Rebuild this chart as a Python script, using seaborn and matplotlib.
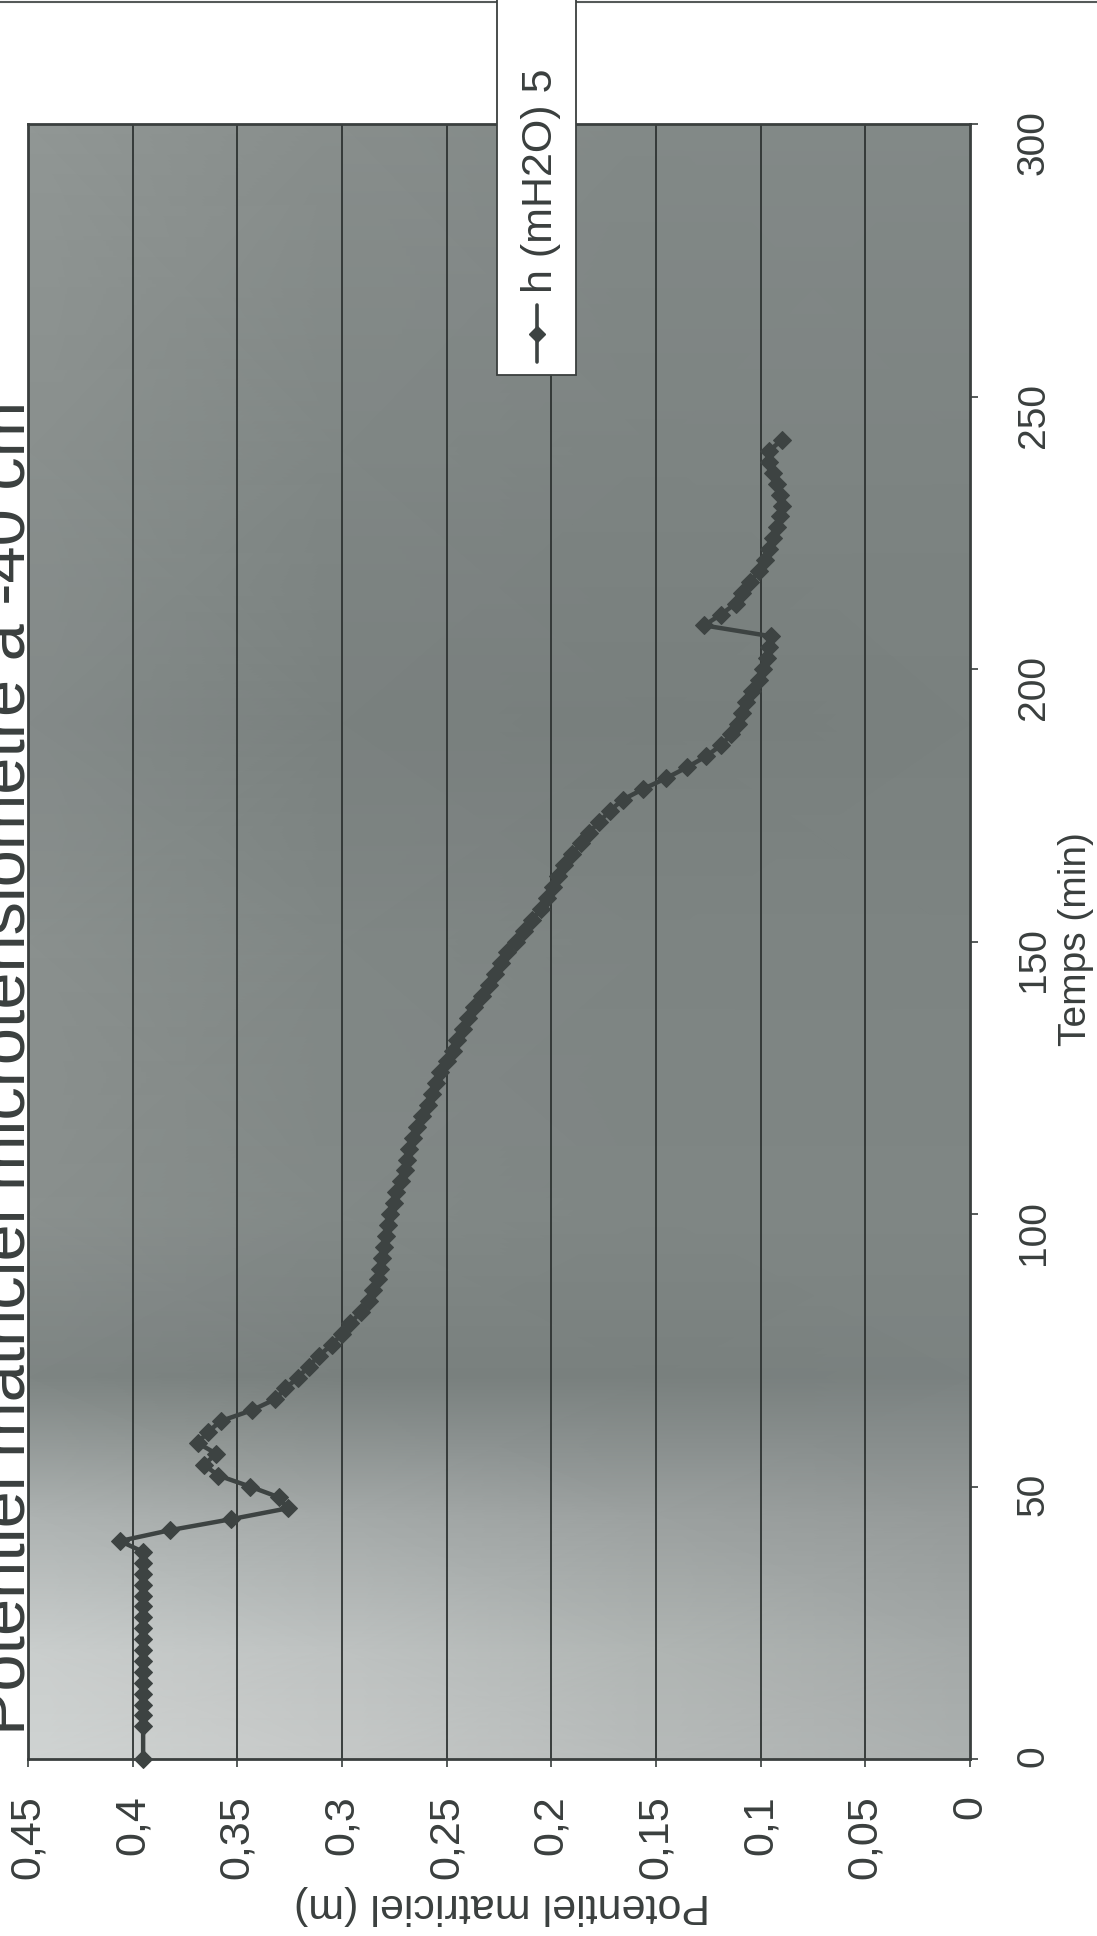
import matplotlib

matplotlib.use("Agg")
import matplotlib.pyplot as plt
import numpy as np
import pandas as pd
import seaborn as sns
from matplotlib.colors import LinearSegmentedColormap
from matplotlib.lines import Line2D
from matplotlib.patches import Rectangle

# ── data ──
temps_min = [0, 6, 8, 10, 12, 14, 16, 18, 20, 22, 24, 26, 28, 30, 32, 34, 36, 38,
             40, 42, 44, 46, 48, 50, 52, 54, 56, 58, 60, 62, 64, 66, 68, 70,
             72, 74, 76, 78, 80, 82, 84, 86, 88, 90, 92, 94, 96, 98, 100,
             102, 104, 106, 108, 110, 112, 114, 116, 118, 120, 122, 124, 126, 128, 130,
             132, 134, 136, 138, 140, 142, 144, 146, 148, 150, 152, 154, 156, 158, 160,
             162, 164, 166, 168, 170, 172, 174, 176, 178, 180, 182, 184, 186, 188, 190,
             192, 194, 196, 198, 200, 202, 204, 206, 208, 210, 212, 214, 216, 218, 220,
             222, 224, 226, 228, 230, 232, 234, 236, 238, 240, 242]
h_mh2o = [0.395, 0.395, 0.395, 0.395, 0.395, 0.395, 0.395, 0.395, 0.395, 0.395,
          0.395, 0.395, 0.395, 0.395, 0.395, 0.395, 0.395, 0.395,
          0.406, 0.382, 0.353, 0.326, 0.330, 0.344, 0.359, 0.366, 0.360, 0.369,
          0.364, 0.358, 0.343, 0.332, 0.327, 0.321,
          0.316, 0.311, 0.305, 0.300, 0.296, 0.291, 0.287, 0.285, 0.283, 0.282,
          0.281, 0.280, 0.279, 0.278, 0.277,
          0.275, 0.274, 0.272, 0.270, 0.269, 0.268, 0.266, 0.264, 0.262, 0.259,
          0.257, 0.255, 0.253, 0.250, 0.247,
          0.245, 0.242, 0.240, 0.237, 0.233, 0.230, 0.227, 0.224, 0.221, 0.217,
          0.213, 0.209, 0.205, 0.202, 0.199,
          0.197, 0.194, 0.190, 0.186, 0.182, 0.177, 0.172, 0.166, 0.156, 0.145,
          0.135, 0.126, 0.119, 0.114, 0.111,
          0.109, 0.107, 0.104, 0.101, 0.099, 0.097, 0.096, 0.095, 0.127, 0.119,
          0.112, 0.109, 0.105, 0.101, 0.098,
          0.096, 0.094, 0.092, 0.091, 0.090, 0.091, 0.092, 0.094, 0.096, 0.096, 0.090]

pot_ticks = [0, 0.05, 0.1, 0.15, 0.2, 0.25, 0.3, 0.35, 0.4, 0.45]
pot_labels = ["0", "0,05", "0,1", "0,15", "0,2", "0,25", "0,3", "0,35", "0,4", "0,45"]
time_ticks = [0, 50, 100, 150, 200, 250, 300]
time_labels = ["0", "50", "100", "150", "200", "250", "300"]

title = "Potentiel matriciel microtensiomètre à -40 cm"
series_name = "h (mH2O) 5"

# scanned grey background of the plot area (lightness, 0 = dark, 1 = light)
bg_pot = [0.45, 0.3, 0.15, 0.0]
bg_time = [0, 20, 45, 70, 100, 150, 190, 240, 300]
bg_light = [[0.95, 0.86, 0.74, 0.64],
            [0.90, 0.80, 0.68, 0.58],
            [0.66, 0.58, 0.50, 0.45],
            [0.26, 0.22, 0.22, 0.24],
            [0.36, 0.30, 0.27, 0.27],
            [0.36, 0.28, 0.25, 0.25],
            [0.31, 0.23, 0.21, 0.23],
            [0.36, 0.28, 0.25, 0.25],
            [0.42, 0.34, 0.30, 0.30]]

df = pd.DataFrame({"temps": temps_min, "h": h_mh2o})

sns.set_theme(style="white")
plt.rcParams["font.family"] = ["Liberation Sans", "DejaVu Sans"]

W, H = 1097, 1936
fig = plt.figure(figsize=(W / 100, H / 100), dpi=100)
fig.patch.set_facecolor("white")

# plot area in pixels: left 28, right 970, top 124, bottom 1759
ax = fig.add_axes([28 / W, 1 - 1759 / H, (970 - 28) / W, (1759 - 124) / H])

scan_cmap = LinearSegmentedColormap.from_list("scan", ["#5f6765", "#d6d9d8"])
ax.pcolormesh(bg_pot, bg_time, np.array(bg_light), shading="gouraud",
              cmap=scan_cmap, vmin=0, vmax=1, zorder=0)

for t in pot_ticks[1:-1]:
    ax.axvline(t, color="#2e3332", lw=1.3, zorder=1)

sns.lineplot(data=df, x="h", y="temps", ax=ax, orient="y", sort=False, estimator=None,
             color="#3d4342", linewidth=3.2, marker="D", markersize=9,
             markeredgecolor="#3d4342", clip_on=False, zorder=3)

ax.set_xlim(0.45, 0)
ax.set_ylim(0, 300)
ax.set_xticks(pot_ticks)
ax.set_xticklabels(pot_labels)
ax.set_yticks(time_ticks)
ax.set_yticklabels(time_labels)
ax.yaxis.tick_right()
ax.set_xlabel("")
ax.set_ylabel("")

ax.tick_params(axis="x", labelrotation=90, labelsize=31, length=6, width=1.2,
               direction="out", pad=20, colors="#3a3f3e", bottom=True)
ax.tick_params(axis="y", labelrotation=90, labelsize=28, length=6, width=1.2,
               direction="out", pad=27, colors="#3a3f3e", right=True, left=False)

for sp in ax.spines.values():
    sp.set_color("#3a3f3e")
    sp.set_linewidth(2)
    sp.set_visible(True)

# axis titles (chart is scanned rotated 90 degrees)
fig.text(1076 / W, 1 - 939 / H, "Temps (min)", rotation=90, ha="center", va="center",
         fontsize=28, color="#3a3f3e")
fig.text(502 / W, 1 - 1905 / H, "Potentiel matriciel (m)", rotation=180,
         ha="center", va="center", fontsize=31, color="#3a3f3e")

# title, mostly cut off by the page edge
fig.text(40 / W, 1 - 1068 / H, title, rotation=90, ha="right", va="center",
         fontsize=48, color="#3a3f3e")

# legend box, rotated with the chart
fig.add_artist(Rectangle((497 / W, 1 - 375 / H), 79 / W, 400 / H,
                         transform=fig.transFigure, facecolor="white",
                         edgecolor="#3a3f3e", lw=1.3, zorder=5, clip_on=False))
fig.add_artist(Line2D([537 / W, 537 / W], [1 - 362 / H, 1 - 305 / H],
                      transform=fig.transFigure, color="#3d4342", lw=2.6, zorder=6))
fig.add_artist(Line2D([537 / W], [1 - 334 / H], transform=fig.transFigure,
                      marker="D", markersize=8, color="#3d4342", zorder=6))
fig.text(541 / W, 1 - 293 / H, series_name, rotation=90, ha="center", va="bottom",
         fontsize=31, color="#3a3f3e", zorder=7)

# dark scan border along the top of the page
fig.add_artist(Line2D([0, 1], [1 - 2 / H, 1 - 2 / H], transform=fig.transFigure,
                      color="#555a59", lw=1.5))

fig.savefig("out.png", dpi=100)
plt.close(fig)
